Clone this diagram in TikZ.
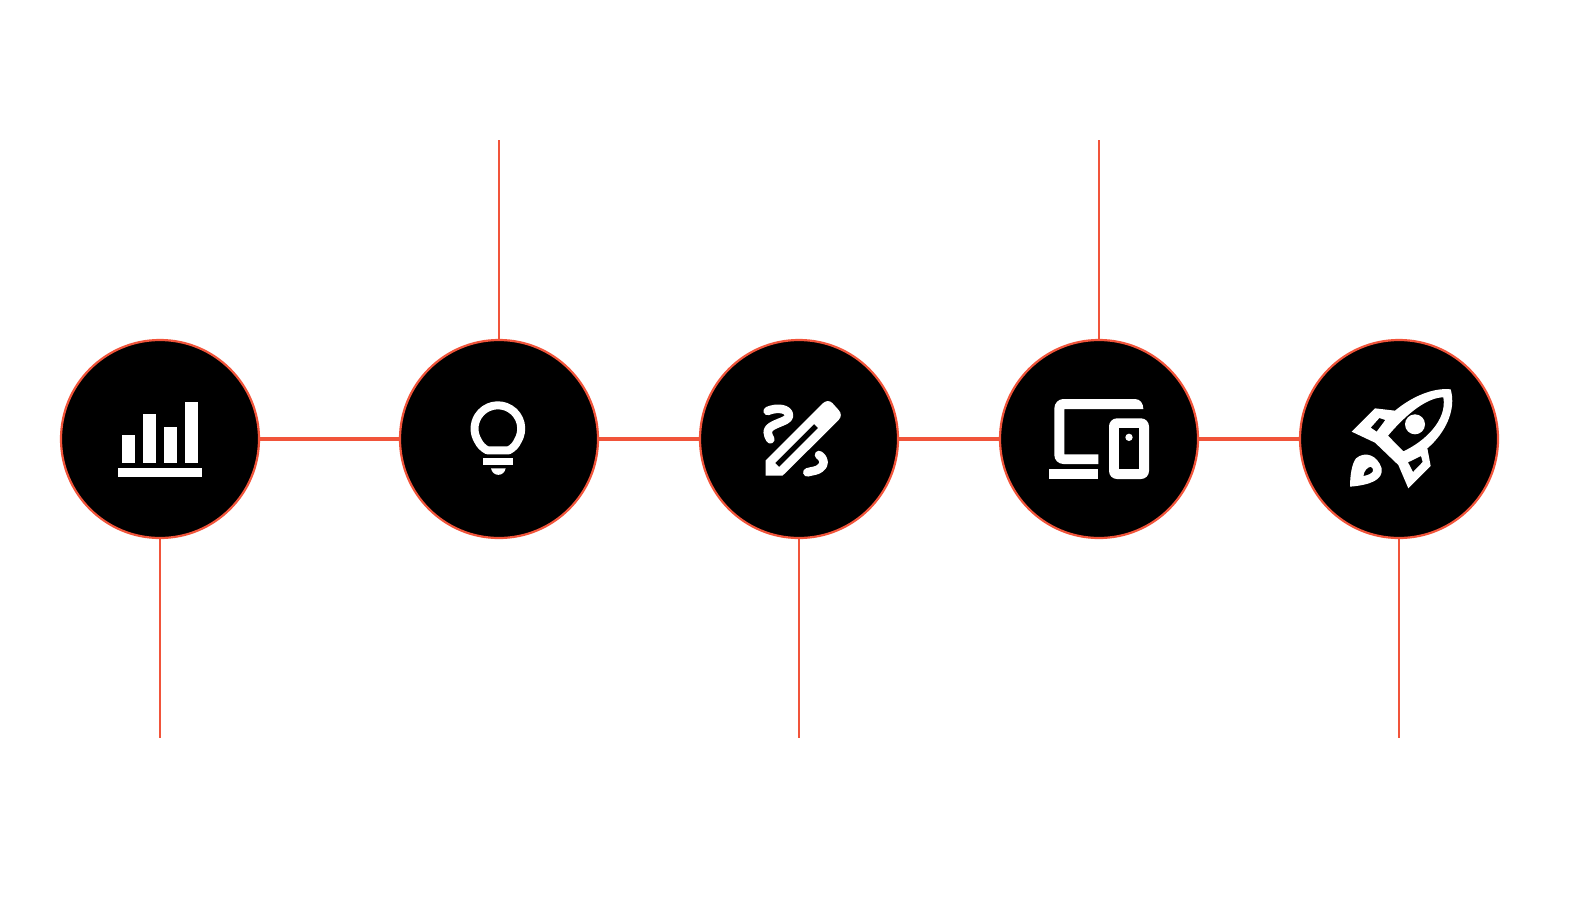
\documentclass[tikz,border=0pt]{standalone}
\usepackage{fontspec}
\setmainfont[FakeStretch=0.67]{Liberation Sans}
\definecolor{accent}{HTML}{F1543A}
\tikzset{
  hub/.style={circle,draw=accent,fill=black,line width=2.2pt,minimum size=198pt,inner sep=0pt},
  link/.style={draw=accent,line width=4pt},
  spoke/.style={draw=accent,line width=2pt},
  caption/.style={text=white,font=\fontsize{66}{70}\selectfont\bfseries,align=center,anchor=base,inner sep=0pt},
  stroke/.style={draw=white,line width=8.6pt,line cap=round,line join=round},
  solid/.style={fill=white,even odd rule}
}
\begin{document}
\begin{tikzpicture}[x=1pt,y=-1pt]
\useasboundingbox (0,0) rectangle (1578,900);
\fill[white] (0,0) rectangle (1578,900);
\node[hub] (c1) at (160,439) {};
\node[hub] (c2) at (499,439) {};
\node[hub] (c3) at (799,439) {};
\node[hub] (c4) at (1099,439) {};
\node[hub] (c5) at (1399,439) {};
\coordinate (e1) at (160,738);
\coordinate (e2) at (499,140);
\coordinate (e3) at (799,738);
\coordinate (e4) at (1099,140);
\coordinate (e5) at (1399,738);
\draw[link] (c1) -- (c2);
\draw[link] (c2) -- (c3);
\draw[link] (c3) -- (c4);
\draw[link] (c4) -- (c5);
\draw[spoke] (c1) -- (e1);
\draw[spoke] (c2) -- (e2);
\draw[spoke] (c3) -- (e3);
\draw[spoke] (c4) -- (e4);
\draw[spoke] (c5) -- (e5);
% labels
\node[caption] (t2a) at (499,68) {Define and};
\node[caption] (t2b) at (499,138) {Ideate};
\node[caption] (t4a) at (1099,68) {Usability};
\node[caption] (t4b) at (1099,138) {Testing};
\node[caption] (t1a) at (160,808) {Research and};
\node[caption] (t1b) at (160,878) {Analysis};
\node[caption] (t3) at (799,808) {Design};
\node[caption] (t5) at (1399,808) {Launch};
% chart icon
\begin{scope}[shift={(100,380)},scale=1/3]
\fill[white] (67,165) rectangle (105,250);
\fill[white] (130,102) rectangle (168,250);
\fill[white] (192,140) rectangle (230,250);
\fill[white] (255,65) rectangle (293,250);
\fill[white] (55,264) rectangle (305,290);
\end{scope}
% bulb icon
\begin{scope}[shift={(450,385)},scale=1/3]
\draw[draw=white,line width=8pt,line join=round] (112,196) -- (176,196) .. controls (188,190) and (198,180) .. (203,168) arc[start angle=32,end angle=-212,radius=70] .. controls (90,180) and (100,190) .. (112,196) -- cycle;
\fill[white] (100,218) rectangle (190,240);
\fill[white] (123,250) .. controls (128,276) and (162,276) .. (167,250) -- cycle;
\end{scope}
% pencil icon
\begin{scope}[shift={(745,385)},scale=1/3]
\path[solid] (62,226) -- (232,56) .. controls (242,46) and (254,46) .. (262,54) -- (280,74) .. controls (290,84) and (290,96) .. (280,106) -- (120,265) -- (112,272) -- (62,272) -- cycle
 (207,117) -- (219,129) -- (102,246) -- (90,234) -- cycle;
\draw[stroke] (68,78) .. controls (95,66) and (132,70) .. (132,92) .. controls (132,112) and (70,115) .. (68,140) .. controls (68,150) and (72,155) .. (76,163);
\draw[stroke] (222,210) .. controls (240,222) and (240,240) .. (225,250) .. controls (215,258) and (200,258) .. (187,262);
\end{scope}
% devices icon
\begin{scope}[shift={(1035,385)},scale=1/3]
\fill[white] (325,72) .. controls (325,55) and (315,42) .. (300,42) -- (85,42) .. controls (70,42) and (58,55) .. (58,70) -- (58,210) .. controls (58,225) and (70,237) .. (85,237) -- (190,237) -- (190,208) -- (88,208) -- (88,72) -- cycle;
\fill[white] (42,252) rectangle (190,282);
\path[solid,rounded corners=8pt] (222,100) rectangle (342,282);
\fill[black] (252,130) rectangle (312,252);
\fill[white] (282,157) circle[radius=11];
\end{scope}
% rocket icon
\begin{scope}[shift={(1340,380)},scale=1/3]
\path[solid] (332,28) .. controls (280,22) and (215,50) .. (165,92) -- (105,85) -- (35,155) -- (105,188) -- (175,255) -- (205,325) -- (272,258) -- (262,205) .. controls (315,160) and (350,90) .. (332,28) -- cycle
 (310,52) .. controls (265,52) and (205,95) .. (144,167) -- (190,214) .. controls (255,184) and (322,120) .. (310,52) -- cycle
 (118,114) -- (136,120) -- (110,155) -- (92,143) -- cycle
 (243,228) -- (248,246) -- (219,276) -- (204,247) -- cycle;
\fill[white] (225,133) circle[radius=30];
\path[solid] (30,320) .. controls (30,285) and (36,250) .. (48,235) .. controls (75,212) and (112,225) .. (125,265) .. controls (130,300) and (90,315) .. (30,320) -- cycle
 (70,288) .. controls (72,272) and (82,262) .. (92,260) .. controls (106,266) and (102,283) .. (70,288) -- cycle;
\end{scope}
\end{tikzpicture}
\end{document}
